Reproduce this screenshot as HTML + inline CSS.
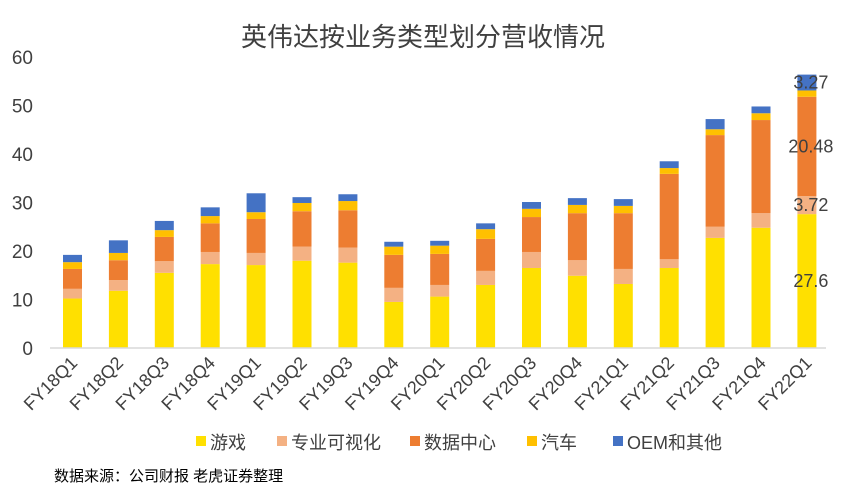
<!DOCTYPE html>
<html><head><meta charset="utf-8"><style>
body{margin:0;background:#fff;}
svg{display:block;font-family:"Liberation Sans","Noto Sans CJK SC",sans-serif;}
</style></head><body>
<svg id="chart" width="843" height="489" viewBox="0 0 843 489">
<text x="423" y="46" text-anchor="middle" font-size="26" fill="#404040">英伟达按业务类型划分营收情况</text>
<g id="yaxis"></g>
<g id="bars"></g>
<line x1="50" y1="348" x2="826" y2="348" stroke="#d9d9d9" stroke-width="1.5"/>
<g id="xaxis"></g>
<g id="legend"></g>
<text x="54" y="481" font-size="15" fill="#000">数据来源：公司财报 老虎证券整理</text>
</svg>
<script>
const categories=["FY18Q1","FY18Q2","FY18Q3","FY18Q4","FY19Q1","FY19Q2","FY19Q3","FY19Q4","FY20Q1","FY20Q2","FY20Q3","FY20Q4","FY21Q1","FY21Q2","FY21Q3","FY21Q4","FY22Q1"];
const gaming=[10.2,11.8,15.5,17.3,17.1,18.0,17.6,9.5,10.6,13.0,16.5,14.9,13.2,16.5,22.7,24.8,27.6];
const proViz=[2.0,2.2,2.4,2.5,2.5,2.9,3.1,2.9,2.4,2.9,3.3,3.2,3.1,1.8,2.3,3.0,3.72];
const dataCenter=[4.1,4.1,5.0,5.9,7.0,7.3,7.7,6.8,6.4,6.6,7.2,9.7,11.5,17.6,18.9,19.2,20.48];
const auto=[1.4,1.5,1.4,1.5,1.4,1.7,1.9,1.7,1.7,2.0,1.7,1.7,1.5,1.2,1.2,1.4,1.3];
const oem=[1.5,2.6,1.9,1.8,3.9,1.2,1.4,1.0,1.0,1.2,1.4,1.4,1.4,1.4,2.1,1.4,3.27];
const yTicks=[0,10,20,30,40,50,60];
const seriesNames=["游戏","专业可视化","数据中心","汽车","OEM和其他"];
const colors=["#ffe000","#f4b183","#ed7d31","#ffc000","#4472c4"];
const labeledIndex=16;
const labeledSeries=[true,true,true,false,true];
const NS="http://www.w3.org/2000/svg";
function yScale(v){return 348-v*(291/60);}
function xScale(i){return 72.5+i*45.9;}
function mk(tag,attrs,parent){const e=document.createElementNS(NS,tag);for(const k in attrs)e.setAttribute(k,attrs[k]);parent.appendChild(e);return e;}
const ya=document.getElementById('yaxis');
yTicks.forEach(t=>{const e=mk('text',{x:33,y:yScale(t)+7,'text-anchor':'end','font-size':19,fill:'#404040'},ya);e.textContent=t;

});
const series=[gaming,proViz,dataCenter,auto,oem];
const bg=document.getElementById('bars');
categories.forEach((c,i)=>{let base=0;series.forEach((s,k)=>{const v=s[i];const r=mk('rect',{x:xScale(i)-9.5,y:yScale(base+v),width:19,height:yScale(base)-yScale(base+v),fill:colors[k]},bg);


if(i===labeledIndex&&labeledSeries[k]){const t=mk('text',{x:xScale(i)+4,y:yScale(base+v/2)+6,'text-anchor':'middle','font-size':18,fill:'#404040'},bg);t.textContent=v;

}
base+=v;});});
const xa=document.getElementById('xaxis');
categories.forEach((c,i)=>{const x=xScale(i)+6,y=364;const t=mk('text',{x:x,y:y,'text-anchor':'end','font-size':18,fill:'#404040',transform:`rotate(-45 ${x} ${y})`},xa);t.textContent=c;

});
const lg=document.getElementById('legend');
const lx=[196,277,410,527,613];
seriesNames.forEach((n,k)=>{const g=mk('g',{},lg);


mk('rect',{x:lx[k],y:436,width:10,height:10,fill:colors[k]},g);
const t=mk('text',{x:lx[k]+14,y:449,'font-size':18,fill:'#404040'},g);t.textContent=n;});
</script>
</body></html>
